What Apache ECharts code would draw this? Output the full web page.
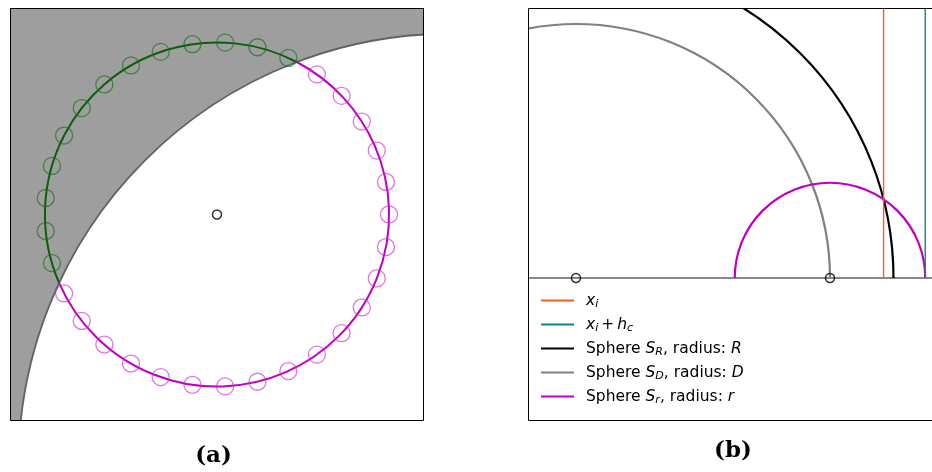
<!DOCTYPE html>
<html>
<head>
<meta charset="utf-8">
<script src="https://cdn.jsdelivr.net/npm/echarts@6/dist/echarts.min.js"></script>
<style>
  html, body { margin: 0; padding: 0; background: #fff; }
  #chart { width: 932px; height: 472px; }
</style>
</head>
<body>
<div id="chart"></div>
<script>
// ---------- Panel (a): disc of radius r against the large sphere ----------
const discCenter = [0, 0];
const discRadius = 1;
const bigSphereCenter = [1.358, -1.461];
const bigSphereRadius = 2.512;
// sample points around the disc rim (degrees, counter-clockwise from +x)
const sampleAnglesDeg = [0, 10.9, 21.8, 32.7, 43.6, 54.5, 65.5, 76.4, 87.3, 98.2,
  109.1, 120.0, 130.9, 141.8, 152.7, 163.6, 174.5, 185.5, 196.4, 207.3, 218.2,
  229.1, 240.0, 250.9, 261.8, 272.7, 283.6, 294.5, 305.5, 316.4, 327.3, 338.2, 349.1];
const panelAExtentX = [-1.203, 1.203];
const panelAExtentY = [-1.2, 1.2];

// ---------- Panel (b): cross-section along the x axis ----------
const sphereCentreB = [0, 0];
const radiusR = 1.25;
const radiusD = 1.0;
const smallCentreB = [1.0, 0];
const radiusSmall = 0.375;
const xi = 1.211;
const hc = 0.164;
const panelBExtentX = [-0.189, 1.441];
const panelBExtentY = [-0.563, 1.063];

const legendNames = ['xi', 'xi_hc', 'S_R', 'S_D', 'S_r'];
const legendLabels = [
  '{m|x}{s|i}',
  '{m|x}{s|i}{p|+}{m|h}{s|c}',
  '{t|Sphere }{m|S}{s|R}{t|, radius: }{m|R}',
  '{t|Sphere }{m|S}{s|D}{t|, radius: }{m|D}',
  '{t|Sphere }{m|S}{s|r}{t|, radius: }{m|r}'
];
const captions = ['(a)', '(b)'];

const C_ORANGE = '#f75d26';
const C_TEAL = '#0f8383';
const C_GRAY = '#808080';
const C_MAGENTA = '#c000c0';
const C_GREEN = '#0b5e0b';

// rim samples, split by whether they lie outside the large sphere
const rimPts = sampleAnglesDeg.map(function (a) {
  const t = a * Math.PI / 180;
  return [discCenter[0] + discRadius * Math.cos(t), discCenter[1] + discRadius * Math.sin(t)];
});
function outsideBig(p) {
  return Math.hypot(p[0] - bigSphereCenter[0], p[1] - bigSphereCenter[1]) > bigSphereRadius;
}
const rimOutside = rimPts.filter(outsideBig);
const rimInside = rimPts.filter(function (p) { return !outsideBig(p); });

function pxRadius(api, r) { return api.size([r, 0])[0]; }

// upper half of a circle (cross-section view)
function upperArc(params, api) {
  const c = api.coord([api.value(0), api.value(1)]);
  return {
    type: 'arc',
    shape: { cx: c[0], cy: c[1], r: pxRadius(api, api.value(2)), startAngle: Math.PI, endAngle: 2 * Math.PI, clockwise: true },
    style: { stroke: api.visual('color'), fill: 'none', lineWidth: 2.2 }
  };
}

// disc rim: dark green where it lies outside the large sphere, magenta inside
function discRim(params, api) {
  const c = api.coord([api.value(0), api.value(1)]);
  const r = pxRadius(api, api.value(2));
  const dx = bigSphereCenter[0] - api.value(0), dy = bigSphereCenter[1] - api.value(1);
  const d = Math.hypot(dx, dy);
  const rr = api.value(2);
  const phi = Math.atan2(dy, dx);
  const th = Math.acos((d * d + rr * rr - bigSphereRadius * bigSphereRadius) / (2 * d * rr));
  return {
    type: 'group',
    children: [
      { type: 'arc', shape: { cx: c[0], cy: c[1], r: r, startAngle: -(phi + th), endAngle: -(phi - th + 2 * Math.PI), clockwise: false },
        style: { stroke: C_GREEN, fill: 'none', lineWidth: 2 } },
      { type: 'arc', shape: { cx: c[0], cy: c[1], r: r, startAngle: -(phi - th), endAngle: -(phi + th), clockwise: false },
        style: { stroke: C_MAGENTA, fill: 'none', lineWidth: 2 } }
    ]
  };
}

function bigDisc(params, api) {
  const c = api.coord([api.value(0), api.value(1)]);
  return {
    type: 'circle',
    shape: { cx: c[0], cy: c[1], r: pxRadius(api, api.value(2)) },
    style: { fill: '#ffffff', stroke: '#626262', lineWidth: 1.8 }
  };
}

const chart = echarts.init(document.getElementById('chart'), null, { renderer: 'canvas' });

const txt = { fontFamily: 'DejaVu Sans', fontSize: 15.5, lineHeight: 20, color: '#000' };
const option = {
  animation: false,
  backgroundColor: '#fff',
  grid: [
    { left: 10, top: 8, width: 414, height: 413, show: true, backgroundColor: '#9e9e9e', borderWidth: 0, outerBoundsMode: 'none' },
    { left: 528, top: 8, width: 414, height: 413, show: false, borderWidth: 0, outerBoundsMode: 'none' }
  ],
  xAxis: [
    { type: 'value', gridIndex: 0, min: panelAExtentX[0], max: panelAExtentX[1], show: false },
    { type: 'value', gridIndex: 1, min: panelBExtentX[0], max: panelBExtentX[1], show: false }
  ],
  yAxis: [
    { type: 'value', gridIndex: 0, min: panelAExtentY[0], max: panelAExtentY[1], show: false },
    { type: 'value', gridIndex: 1, min: panelBExtentY[0], max: panelBExtentY[1], show: false }
  ],
  legend: {
    data: legendNames,
    orient: 'vertical',
    left: 541,
    top: 291,
    padding: 0,
    itemWidth: 33,
    itemHeight: 2,
    itemGap: 5,
    icon: 'rect',
    selectedMode: false,
    formatter: function (n) { return legendLabels[legendNames.indexOf(n)]; },
    textStyle: {
      padding: [0, 0, 0, 7],
      rich: {
        t: txt,
        m: Object.assign({}, txt, { fontStyle: 'italic' }),
        p: Object.assign({}, txt, { padding: [0, 3, 0, 3] }),
        s: { fontFamily: 'DejaVu Sans', fontStyle: 'italic', fontSize: 11, lineHeight: 12, padding: [8, 0, 0, 0], color: '#000' }
      }
    }
  },
  series: [
    // ---- panel (a)
    { type: 'custom', xAxisIndex: 0, yAxisIndex: 0, clip: true, silent: true,
      data: [[bigSphereCenter[0], bigSphereCenter[1], bigSphereRadius]], renderItem: bigDisc, z: 2 },
    { type: 'custom', xAxisIndex: 0, yAxisIndex: 0, clip: true, silent: true,
      data: [[discCenter[0], discCenter[1], discRadius]], renderItem: discRim, z: 3 },
    { type: 'scatter', xAxisIndex: 0, yAxisIndex: 0, data: rimOutside, symbol: 'circle', symbolSize: 17, silent: true, z: 4,
      itemStyle: { color: 'transparent', borderColor: 'rgba(20,110,20,0.8)', borderWidth: 1.3 } },
    { type: 'scatter', xAxisIndex: 0, yAxisIndex: 0, data: rimInside, symbol: 'circle', symbolSize: 17, silent: true, z: 4,
      itemStyle: { color: 'transparent', borderColor: 'rgba(200,40,200,0.8)', borderWidth: 1.3 } },
    { type: 'scatter', xAxisIndex: 0, yAxisIndex: 0, data: [discCenter], symbol: 'circle', symbolSize: 9, silent: true, z: 5,
      itemStyle: { color: 'transparent', borderColor: '#000', borderWidth: 1.5 } },

    // ---- panel (b)
    { type: 'line', xAxisIndex: 1, yAxisIndex: 1, silent: true, symbol: 'none', z: 2,
      data: [[panelBExtentX[0], 0], [panelBExtentX[1], 0]],
      lineStyle: { color: '#888', width: 2 }, itemStyle: { color: '#888' } },
    { name: 'xi', type: 'line', xAxisIndex: 1, yAxisIndex: 1, silent: true, symbol: 'none', z: 3,
      data: [[xi, 0], [xi, panelBExtentY[1]]],
      lineStyle: { color: C_ORANGE, width: 1.4 }, itemStyle: { color: C_ORANGE } },
    { name: 'xi_hc', type: 'line', xAxisIndex: 1, yAxisIndex: 1, silent: true, symbol: 'none', z: 3,
      data: [[xi + hc, 0], [xi + hc, panelBExtentY[1]]],
      lineStyle: { color: C_TEAL, width: 1.4 }, itemStyle: { color: C_TEAL } },
    { name: 'S_R', type: 'custom', xAxisIndex: 1, yAxisIndex: 1, clip: true, silent: true, z: 3,
      data: [[sphereCentreB[0], sphereCentreB[1], radiusR]], renderItem: upperArc, itemStyle: { color: '#000' } },
    { name: 'S_D', type: 'custom', xAxisIndex: 1, yAxisIndex: 1, clip: true, silent: true, z: 3,
      data: [[sphereCentreB[0], sphereCentreB[1], radiusD]], renderItem: upperArc, itemStyle: { color: C_GRAY } },
    { name: 'S_r', type: 'custom', xAxisIndex: 1, yAxisIndex: 1, clip: true, silent: true, z: 3,
      data: [[smallCentreB[0], smallCentreB[1], radiusSmall]], renderItem: upperArc, itemStyle: { color: C_MAGENTA } },
    { type: 'scatter', xAxisIndex: 1, yAxisIndex: 1, data: [sphereCentreB, smallCentreB], symbol: 'circle', symbolSize: 9, silent: true, z: 5,
      itemStyle: { color: 'transparent', borderColor: '#000', borderWidth: 1.5 } }
  ],
  graphic: [
    { type: 'rect', z: 100, silent: true, shape: { x: 10.5, y: 8.5, width: 413, height: 412 },
      style: { fill: 'transparent', stroke: '#000', lineWidth: 1 } },
    { type: 'rect', z: 100, silent: true, shape: { x: 528.5, y: 8.5, width: 420, height: 412 },
      style: { fill: 'transparent', stroke: '#000', lineWidth: 1 } },
    { type: 'text', z: 100, silent: true, x: 213.5, y: 456,
      style: { text: captions[0], font: 'bold 23px "DejaVu Serif"', fill: '#000', align: 'center', verticalAlign: 'middle' } },
    { type: 'text', z: 100, silent: true, x: 733, y: 451.5,
      style: { text: captions[1], font: 'bold 23px "DejaVu Serif"', fill: '#000', align: 'center', verticalAlign: 'middle' } }
  ]
};
chart.setOption(option);
</script>
</body>
</html>
